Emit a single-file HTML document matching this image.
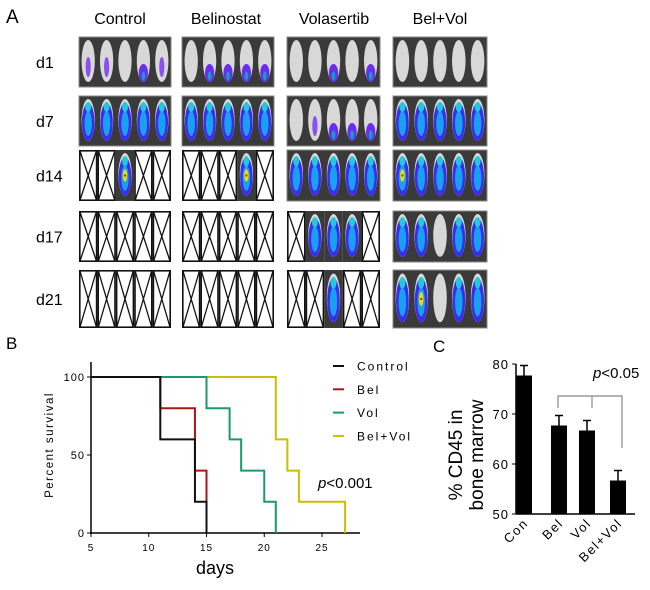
<!DOCTYPE html>
<html><head><meta charset="utf-8"><style>
body{margin:0;background:#fff;}
svg text{font-family:"Liberation Sans",Arial,sans-serif;}
</style></head><body>
<svg id="fig" width="650" height="585" viewBox="0 0 650 585" xmlns="http://www.w3.org/2000/svg">
<g id="panelA">
<text x="6" y="23" font-size="19">A</text>
<text x="120" y="24" font-size="16" text-anchor="middle">Control</text>
<text x="226" y="24" font-size="16" text-anchor="middle">Belinostat</text>
<text x="334" y="24" font-size="16" text-anchor="middle">Volasertib</text>
<text x="440" y="24" font-size="16" text-anchor="middle">Bel+Vol</text>
</g>
<g id="panelB">
<text x="6" y="349" font-size="17">B</text>
</g>
<g id="panelC">
<text x="433" y="352" font-size="17">C</text>
</g>
</svg>
<script>
const NS='http://www.w3.org/2000/svg';
function mk(tag,attrs,parent,txt){const e=document.createElementNS(NS,tag);for(const k in attrs)e.setAttribute(k,attrs[k]);if(txt!==undefined)e.textContent=txt;parent.appendChild(e);return e;}
// ---------- Panel A ----------
const dayLabels=['d1','d7','d14','d17','d21'];
const groupNames=['control','belinostat','volasertib','bel-vol'];
const mice=[
 ['ppwbp','wbbbb','wwbwb','wwwww'],
 ['BBBBB','BBBBB','wpbbb','BBBBB'],
 ['xxRxx','xxxRx','BBBBB','RBBBB'],
 ['xxxxx','xxxxx','xBBBx','BBwBB'],
 ['xxxxx','xxxxx','xxBxx','BRwBB']
];
const rowY=[[37,87],[96,146],[150,201],[211,262],[270,328]];
const colX=[[79,171],[182,274],[287,380],[393,487]];
const A=document.getElementById('panelA');
dayLabels.forEach((d,r)=>{
  const t=mk('text',{x:36,y:(rowY[r][0]+rowY[r][1])/2+6,'font-size':16},A,d);
  
  
  colX.forEach((c,g)=>{
    const y0=rowY[r][0],y1=rowY[r][1],h=y1-y0,w=(c[1]-c[0])/5;
    const allX=mice[r][g].indexOf('x')>=0;
    if(!allX){const bg=mk('rect',{x:c[0],y:y0,width:c[1]-c[0],height:h,fill:'#3a3a3a',stroke:'#888'},A);
      
      }
    for(let i=0;i<5;i++){
      const m=mice[r][g][i],x=c[0]+i*w,cx=x+w/2;
      const grp=mk('g',{},A);
      
      
      if(m==='x'){
        mk('rect',{x:x+0.8,y:y0+0.8,width:w-1.6,height:h-1.6,fill:'#fff',stroke:'#111','stroke-width':1.6},grp);
        mk('path',{d:`M${x+1} ${y0+1}L${x+w-1} ${y1-1}M${x+w-1} ${y0+1}L${x+1} ${y1-1}`,stroke:'#111','stroke-width':1.3},grp);
      } else {
        if(allX) mk('rect',{x:x,y:y0,width:w,height:h,fill:'#3a3a3a'},grp);
        mk('ellipse',{cx:cx,cy:y0+h*0.48,rx:w*0.36,ry:h*0.42,fill:'#d8d8d8'},grp);
        if(m==='B'||m==='R'){
          mk('ellipse',{cx:cx,cy:y0+h*0.52,rx:w*0.34,ry:h*0.38,fill:'#3a2cf0'},grp);
          mk('ellipse',{cx:cx,cy:y0+h*0.55,rx:w*0.2,ry:h*0.25,fill:'#1aa0f0'},grp);
          mk('ellipse',{cx:cx,cy:y0+h*0.22,rx:w*0.16,ry:h*0.1,fill:'#20c8e0'},grp);
          if(m==='R'){mk('ellipse',{cx:cx,cy:y0+h*0.5,rx:w*0.12,ry:h*0.12,fill:'#e8e000'},grp);
            mk('circle',{cx:cx,cy:y0+h*0.5,r:w*0.06,fill:'#e81010'},grp);}
        } else if(m==='b'){
          mk('ellipse',{cx:cx,cy:y0+h*0.72,rx:w*0.25,ry:h*0.18,fill:'#6a2cf0'},grp);
          mk('ellipse',{cx:cx,cy:y0+h*0.78,rx:w*0.1,ry:h*0.09,fill:'#10a0c0'},grp);
        } else if(m==='p'){
          mk('ellipse',{cx:cx,cy:y0+h*0.6,rx:w*0.14,ry:h*0.2,fill:'#8a50f0'},grp);
        }
      }
    }
  });
});
// ---------- Panel B ----------
const days=[5,10,15,20,25];
const survTicks=[0,50,100];
const ctrlT=[5,11,11,14,14,15,15];const ctrlS=[100,100,60,60,20,20,0];
const belT=[5,11,11,14,14,15,15];const belS=[100,100,80,80,40,40,0];
const volT=[5,15,15,17,17,18,18,20,20,21,21];const volS=[100,100,80,80,60,60,40,40,20,20,0];
const bvT=[5,21,21,22,22,23,23,27,27];const bvS=[100,100,60,60,40,40,20,20,0];
const series=[['control','#111',ctrlT,ctrlS],['bel','#b01515',belT,belS],['vol','#1a9a70',volT,volS],['bel-vol','#c8c000',bvT,bvS]];
const B=document.getElementById('panelB');
const bx=d=>91+(d-5)*11.55, by=v=>533-v*1.56;
const ya=mk('line',{x1:91,y1:362,x2:91,y2:534,stroke:'#000','stroke-width':1.5},B);

const xa=mk('line',{x1:90,y1:533,x2:360,y2:533,stroke:'#000','stroke-width':1.5},B);

days.forEach(d=>{mk('line',{x1:bx(d),y1:533,x2:bx(d),y2:537,stroke:'#000'},B);
 const t=mk('text',{x:bx(d),y:551,'font-size':10,'text-anchor':'middle','letter-spacing':'1'},B,d);
 });
survTicks.forEach(v=>{mk('line',{x1:87,y1:by(v),x2:91,y2:by(v),stroke:'#000'},B);
 const t=mk('text',{x:85,y:by(v)+4,'font-size':11,'text-anchor':'end','letter-spacing':'1'},B,v);
 });
let yt=mk('text',{x:53,y:445,'font-size':11.5,'text-anchor':'middle','letter-spacing':'1.5',transform:'rotate(-90 53 445)'},B,'Percent survival');

let xt=mk('text',{x:215,y:574,'font-size':18,'text-anchor':'middle'},B,'days');

series.slice().reverse().forEach(s=>{
 const p=mk('polyline',{points:s[2].map((t,i)=>bx(t)+','+by(s[3][i])).join(' '),fill:'none',stroke:s[1],'stroke-width':2},B);
 });
const legNames=['Control','Bel','Vol','Bel+Vol'];
series.forEach((s,i)=>{const y=366+i*23.3;
 const g=mk('g',{},B);
 
 mk('line',{x1:333,y1:y,x2:344,y2:y,stroke:s[1],'stroke-width':2},g);
 mk('text',{x:357,y:y+4.5,'font-size':12,'letter-spacing':'2'},g,legNames[i]);});
const pb=mk('text',{x:318,y:488,'font-size':15},B);

mk('tspan',{'font-style':'italic'},pb,'p');mk('tspan',{},pb,'<0.001');
// ---------- Panel C ----------
const cats=['Con','Bel','Vol','Bel+Vol'];
const cd45=[77.7,67.7,66.7,56.7];
const sem=[2.0,2.0,2.0,2.0];
const cTicks=[50,60,70,80];
const C=document.getElementById('panelC');
const cy=v=>514-(v-50)*5.0;
const cx=[524,559,587,618];
let cya=mk('line',{x1:516,y1:cy(80),x2:516,y2:cy(50),stroke:'#000','stroke-width':1.5},C);

let cxa=mk('line',{x1:516,y1:514,x2:635,y2:514,stroke:'#000','stroke-width':1.5},C);

cTicks.forEach(v=>{mk('line',{x1:512,y1:cy(v),x2:516,y2:cy(v),stroke:'#000'},C);
 const t=mk('text',{x:509,y:cy(v)+5,'font-size':13,'text-anchor':'end','letter-spacing':'1'},C,v);
 });
cats.forEach((c,i)=>{const x=cx[i];
 mk('line',{x1:x,y1:cy(cd45[i]),x2:x,y2:cy(cd45[i]+sem[i]),stroke:'#000','stroke-width':1.5},C);
 mk('line',{x1:x-4,y1:cy(cd45[i]+sem[i]),x2:x+4,y2:cy(cd45[i]+sem[i]),stroke:'#000','stroke-width':1.5},C);
 const r=mk('rect',{x:x-8,y:cy(cd45[i]),width:16,height:514-cy(cd45[i]),fill:'#000'},C);
 
 const t=mk('text',{x:x+5,y:524,'font-size':13,'text-anchor':'end','letter-spacing':'1.5',transform:`rotate(-45 ${x+5} 524)`},C,c);
 });
let ct=mk('text',{x:0,y:0,'font-size':19,'text-anchor':'middle',transform:'translate(462,455) rotate(-90)'},C);

mk('tspan',{x:0,dy:0},ct,'% CD45 in');mk('tspan',{x:0,dy:21},ct,'bone marrow');
let br=mk('path',{d:'M558 408V396H622V448M592 396V408',fill:'none',stroke:'#888','stroke-width':1.2},C);

const pc=mk('text',{x:593,y:378,'font-size':15},C);

mk('tspan',{'font-style':'italic'},pc,'p');mk('tspan',{},pc,'<0.05');
</script>
</body></html>
